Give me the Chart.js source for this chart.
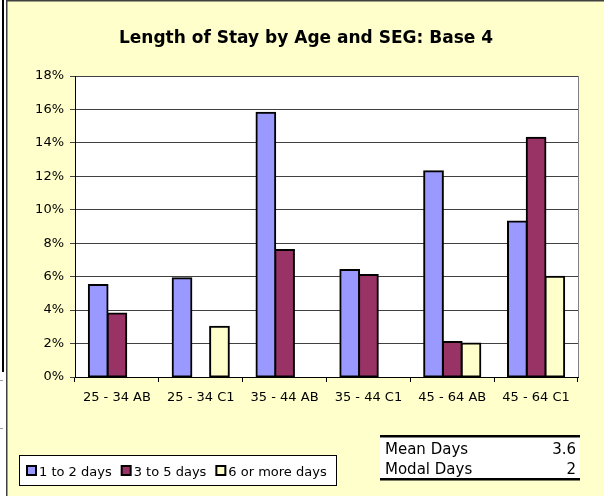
<!DOCTYPE html>
<html>
<head>
<meta charset="utf-8">
<script src="https://cdn.jsdelivr.net/npm/chart.js@4/dist/chart.umd.min.js"></script>
<style>
  html, body { margin: 0; padding: 0; background: #FFFFCC; }
  #wrap { position: relative; width: 604px; height: 496px; }
  canvas { display: block; }
</style>
</head>
<body>
<div id="wrap"><canvas id="c" width="604" height="496"></canvas></div>
<script>
// Length of stay shares (%) by age band and socio-economic group
const categories = ['25 - 34 AB', '25 - 34 C1', '35 - 44 AB', '35 - 44 C1', '45 - 64 AB', '45 - 64 C1'];
const seriesNames = ['1 to 2 days', '3 to 5 days', '6 or more days'];
const stayShort = [5.5, 5.9, 15.8, 6.4, 12.3, 9.3];
const stayMedium = [3.8, null, 7.6, 6.1, 2.1, 14.3];
const stayLong = [null, 3.0, null, null, 2.0, 6.0];
const seriesColors = ['#9999FF', '#993366', '#FFFFCC'];
const yTickMax = 18;
const yTickStep = 2;
const statLabels = ['Mean Days', 'Modal Days'];
const statValues = ['3.6', '2'];

const FONT = 'DejaVu Sans';

// Sheet frame, title, legend box and summary table
const decor = {
  id: 'decor',
  beforeDraw(chart) {
    const ctx = chart.ctx, a = chart.chartArea;
    ctx.save();
    ctx.fillStyle = '#FFFFCC';
    ctx.fillRect(0, 0, chart.width, chart.height);
    // spreadsheet edge
    ctx.fillStyle = '#FFFFFF';
    ctx.fillRect(0, 0, 6, chart.height);
    ctx.fillStyle = '#000000';
    ctx.fillRect(2, 0, 2, 372);
    ctx.fillStyle = '#A0A0A0';
    ctx.fillRect(0, 380, 3, 1);
    ctx.fillRect(0, 428, 3, 1);
    ctx.fillStyle = '#404040';
    ctx.fillRect(6, 0, 1.5, chart.height);
    ctx.fillRect(6, 0, chart.width - 6, 1.5);
    // plot area
    ctx.fillStyle = '#FFFFFF';
    ctx.fillRect(a.left, a.top, a.right - a.left, a.bottom - a.top);
    ctx.strokeStyle = '#808080';
    ctx.lineWidth = 1;
    ctx.beginPath();
    ctx.moveTo(a.right + 0.5, a.top);
    ctx.lineTo(a.right + 0.5, a.bottom);
    ctx.stroke();
    // title
    ctx.fillStyle = '#000000';
    ctx.font = 'bold 17px "' + FONT + '"';
    ctx.textAlign = 'center';
    ctx.textBaseline = 'alphabetic';
    ctx.fillText('Length of Stay by Age and SEG: Base 4', 306, 43);
    ctx.restore();
  },
  afterDraw(chart) {
    const ctx = chart.ctx;
    ctx.save();
    // legend
    ctx.fillStyle = '#FFFFFF';
    ctx.fillRect(19.5, 455.5, 317, 30);
    ctx.strokeStyle = '#000000';
    ctx.lineWidth = 1;
    ctx.strokeRect(19.5, 455.5, 317, 30);
    ctx.font = '13px "' + FONT + '"';
    ctx.textAlign = 'left';
    ctx.textBaseline = 'alphabetic';
    let x = 27;
    chart.data.datasets.forEach(ds => {
      ctx.fillStyle = ds.backgroundColor;
      ctx.fillRect(x, 466, 9, 9);
      ctx.lineWidth = 2;
      ctx.strokeStyle = '#000000';
      ctx.strokeRect(x, 466, 9, 9);
      ctx.fillStyle = '#000000';
      ctx.fillText(ds.label, x + 12, 476);
      x += 12 + ctx.measureText(ds.label).width + 10;
    });
    // summary table
    ctx.fillStyle = '#FFFFFF';
    ctx.fillRect(380, 436, 200, 43);
    ctx.fillStyle = '#000000';
    ctx.fillRect(380, 435, 200, 2.5);
    ctx.fillRect(380, 478, 200, 2.5);
    ctx.font = '15px "' + FONT + '"';
    statLabels.forEach((lab, i) => {
      const y = 454 + i * 20;
      ctx.textAlign = 'left';
      ctx.fillText(lab, 385, y);
      ctx.textAlign = 'right';
      ctx.fillText(statValues[i], 576, y);
    });
    ctx.restore();
  }
};

const barStyle = { borderColor: '#000000', borderWidth: 2, borderSkipped: false, inflateAmount: 1 };

new Chart(document.getElementById('c'), {
  type: 'bar',
  data: {
    labels: categories,
    datasets: [
      Object.assign({ label: seriesNames[0], data: stayShort, backgroundColor: seriesColors[0] }, barStyle),
      Object.assign({ label: seriesNames[1], data: stayMedium, backgroundColor: seriesColors[1] }, barStyle),
      Object.assign({ label: seriesNames[2], data: stayLong, backgroundColor: seriesColors[2] }, barStyle)
    ]
  },
  options: {
    responsive: false,
    animation: false,
    devicePixelRatio: 1,
    layout: { padding: { left: 0, right: 26, top: 76, bottom: 79 } },
    datasets: { bar: { categoryPercentage: 0.67, barPercentage: 1.0 } },
    plugins: { legend: { display: false }, title: { display: false }, tooltip: { enabled: false } },
    scales: {
      x: {
        afterFit(s) { s.height = 40; },
        grid: { offset: true, drawOnChartArea: false, tickLength: 5, color: '#000000' },
        border: { color: '#000000', width: 1 },
        ticks: { color: '#000000', font: { family: FONT, size: 13 }, padding: 8, maxRotation: 0 }
      },
      y: {
        min: 0,
        max: yTickMax,
        afterFit(s) { s.width = 75; },
        grid: { color: '#404040', lineWidth: 1, tickLength: 5 },
        border: { color: '#000000', width: 1 },
        ticks: {
          stepSize: yTickStep,
          color: '#000000',
          font: { family: FONT, size: 13 },
          padding: 6,
          callback: v => v + '%'
        }
      }
    }
  },
  plugins: [decor]
});
</script>
</body>
</html>
